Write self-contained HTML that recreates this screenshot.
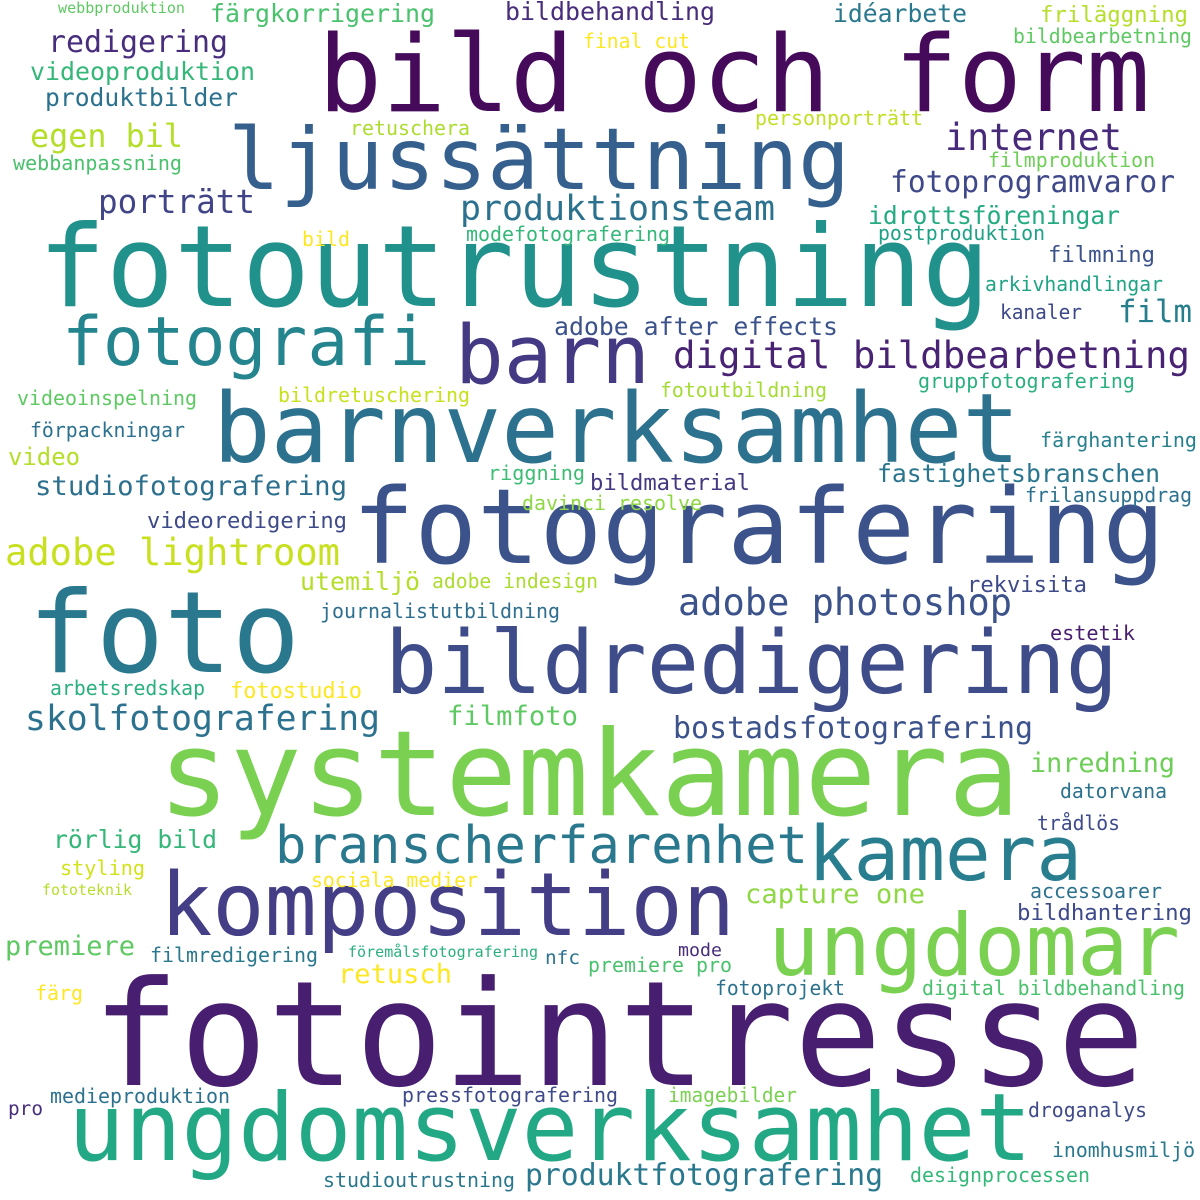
<!DOCTYPE html>
<html><head><meta charset="utf-8"><style>
html,body{margin:0;padding:0;background:#fff;}
svg{display:block;}
text{font-family:"DejaVu Sans Mono","Liberation Mono",monospace;}
</style></head><body>
<svg width="1200" height="1200" viewBox="0 0 1200 1200" xmlns="http://www.w3.org/2000/svg" lengthAdjust="spacingAndGlyphs">
<rect width="1200" height="1200" fill="#fff"/>
<g lengthAdjust="spacingAndGlyphs">
<text x="318" y="111" font-size="106" fill="#450a5a" textLength="832" lengthAdjust="spacingAndGlyphs">bild och form</text>
<text x="38" y="306" font-size="113" fill="#21918c" textLength="952" lengthAdjust="spacingAndGlyphs">fotoutrustning</text>
<text x="228" y="189" font-size="86" fill="#355f8d" textLength="622" lengthAdjust="spacingAndGlyphs">ljussättning</text>
<text x="213" y="462" font-size="96" fill="#2c718e" textLength="807" lengthAdjust="spacingAndGlyphs">barnverksamhet</text>
<text x="352" y="563" font-size="104" fill="#3b528b" textLength="813" lengthAdjust="spacingAndGlyphs">fotografering</text>
<text x="28" y="672" font-size="113" fill="#2a788e" textLength="272" lengthAdjust="spacingAndGlyphs">foto</text>
<text x="385" y="693" font-size="87" fill="#3e4c8a" textLength="733" lengthAdjust="spacingAndGlyphs">bildredigering</text>
<text x="158" y="815" font-size="119" fill="#7ad151" textLength="862" lengthAdjust="spacingAndGlyphs">systemkamera</text>
<text x="160" y="935" font-size="87" fill="#433e85" textLength="575" lengthAdjust="spacingAndGlyphs">komposition</text>
<text x="808" y="880" font-size="76" fill="#287d8e" textLength="274" lengthAdjust="spacingAndGlyphs">kamera</text>
<text x="768" y="975" font-size="86" fill="#7ad151" textLength="412" lengthAdjust="spacingAndGlyphs">ungdomar</text>
<text x="92" y="1085" font-size="146" fill="#481f70" textLength="1053" lengthAdjust="spacingAndGlyphs">fotointresse</text>
<text x="68" y="1160" font-size="94" fill="#22a884" textLength="964" lengthAdjust="spacingAndGlyphs">ungdomsverksamhet</text>
<text x="275" y="863" font-size="52" fill="#2a788e" textLength="533" lengthAdjust="spacingAndGlyphs">branscherfarenhet</text>
<text x="455" y="383" font-size="81" fill="#443983" textLength="195" lengthAdjust="spacingAndGlyphs">barn</text>
<text x="62" y="365" font-size="68" fill="#25858e" textLength="368" lengthAdjust="spacingAndGlyphs">fotografi</text>

<text x="58" y="13" font-size="15" fill="#5ec962" textLength="127" lengthAdjust="spacingAndGlyphs">webbproduktion</text>
<text x="210" y="22" font-size="25" fill="#4ac16d" textLength="225" lengthAdjust="spacingAndGlyphs">färgkorrigering</text>
<text x="505" y="20" font-size="25" fill="#472d7b" textLength="210" lengthAdjust="spacingAndGlyphs">bildbehandling</text>
<text x="833" y="22" font-size="25" fill="#2a788e" textLength="134" lengthAdjust="spacingAndGlyphs">idéarbete</text>
<text x="1040" y="22" font-size="22" fill="#b5de2b" textLength="148" lengthAdjust="spacingAndGlyphs">friläggning</text>
<text x="1013" y="43" font-size="20" fill="#5ec962" textLength="179" lengthAdjust="spacingAndGlyphs">bildbearbetning</text>
<text x="583" y="48" font-size="20" fill="#fde725" textLength="107" lengthAdjust="spacingAndGlyphs">final cut</text>
<text x="48" y="52" font-size="30" fill="#472d7b" textLength="180" lengthAdjust="spacingAndGlyphs">redigering</text>
<text x="30" y="80" font-size="25" fill="#35b779" textLength="225" lengthAdjust="spacingAndGlyphs">videoproduktion</text>
<text x="45" y="106" font-size="25" fill="#2c728e" textLength="193" lengthAdjust="spacingAndGlyphs">produktbilder</text>
<text x="755" y="125" font-size="20" fill="#c2df23" textLength="168" lengthAdjust="spacingAndGlyphs">personporträtt</text>
<text x="350" y="135" font-size="20" fill="#addc30" textLength="120" lengthAdjust="spacingAndGlyphs">retuschera</text>
<text x="945" y="150" font-size="37" fill="#472a7a" textLength="177" lengthAdjust="spacingAndGlyphs">internet</text>
<text x="30" y="147" font-size="32" fill="#b5de2b" textLength="153" lengthAdjust="spacingAndGlyphs">egen bil</text>
<text x="13" y="170" font-size="20" fill="#4ac16d" textLength="169" lengthAdjust="spacingAndGlyphs">webbanpassning</text>
<text x="988" y="167" font-size="20" fill="#6ece58" textLength="167" lengthAdjust="spacingAndGlyphs">filmproduktion</text>
<text x="890" y="192" font-size="30" fill="#3f4889" textLength="285" lengthAdjust="spacingAndGlyphs">fotoprogramvaror</text>
<text x="98" y="213" font-size="33" fill="#414487" textLength="157" lengthAdjust="spacingAndGlyphs">porträtt</text>
<text x="460" y="220" font-size="35" fill="#2c728e" textLength="315" lengthAdjust="spacingAndGlyphs">produktionsteam</text>
<text x="868" y="224" font-size="25" fill="#25ab82" textLength="252" lengthAdjust="spacingAndGlyphs">idrottsföreningar</text>
<text x="302" y="246" font-size="20" fill="#fde725" textLength="48" lengthAdjust="spacingAndGlyphs">bild</text>
<text x="466" y="241" font-size="20" fill="#35b779" textLength="204" lengthAdjust="spacingAndGlyphs">modefotografering</text>
<text x="878" y="240" font-size="20" fill="#1fa187" textLength="167" lengthAdjust="spacingAndGlyphs">postproduktion</text>
<text x="1048" y="262" font-size="22" fill="#3b528b" textLength="107" lengthAdjust="spacingAndGlyphs">filmning</text>
<text x="985" y="291" font-size="20" fill="#20a486" textLength="178" lengthAdjust="spacingAndGlyphs">arkivhandlingar</text>
<text x="1000" y="319" font-size="20" fill="#3e4989" textLength="82" lengthAdjust="spacingAndGlyphs">kanaler</text>
<text x="1118" y="322" font-size="31" fill="#277f8e" textLength="74" lengthAdjust="spacingAndGlyphs">film</text>
<text x="554" y="335" font-size="25" fill="#3b528b" textLength="284" lengthAdjust="spacingAndGlyphs">adobe after effects</text>
<text x="673" y="368" font-size="37" fill="#482374" textLength="517" lengthAdjust="spacingAndGlyphs">digital bildbearbetning</text>
<text x="17" y="405" font-size="20" fill="#5ec962" textLength="180" lengthAdjust="spacingAndGlyphs">videoinspelning</text>
<text x="278" y="402" font-size="20" fill="#c8e020" textLength="192" lengthAdjust="spacingAndGlyphs">bildretuschering</text>
<text x="660" y="397" font-size="20" fill="#a5db36" textLength="167" lengthAdjust="spacingAndGlyphs">fotoutbildning</text>
<text x="918" y="388" font-size="20" fill="#2ab07f" textLength="217" lengthAdjust="spacingAndGlyphs">gruppfotografering</text>
<text x="30" y="437" font-size="20" fill="#2c728e" textLength="155" lengthAdjust="spacingAndGlyphs">förpackningar</text>
<text x="1040" y="447" font-size="20" fill="#27808e" textLength="157" lengthAdjust="spacingAndGlyphs">färghantering</text>
<text x="8" y="465" font-size="24" fill="#b5de2b" textLength="72" lengthAdjust="spacingAndGlyphs">video</text>
<text x="488" y="480" font-size="20" fill="#3dbc74" textLength="97" lengthAdjust="spacingAndGlyphs">riggning</text>
<text x="877" y="482" font-size="25" fill="#2a768e" textLength="283" lengthAdjust="spacingAndGlyphs">fastighetsbranschen</text>
<text x="35" y="495" font-size="27" fill="#2d708e" textLength="312" lengthAdjust="spacingAndGlyphs">studiofotografering</text>
<text x="590" y="490" font-size="22" fill="#453781" textLength="160" lengthAdjust="spacingAndGlyphs">bildmaterial</text>
<text x="1025" y="502" font-size="20" fill="#2c728e" textLength="167" lengthAdjust="spacingAndGlyphs">frilansuppdrag</text>
<text x="522" y="510" font-size="20" fill="#8fd744" textLength="180" lengthAdjust="spacingAndGlyphs">davinci resolve</text>
<text x="147" y="528" font-size="22" fill="#3e4a89" textLength="200" lengthAdjust="spacingAndGlyphs">videoredigering</text>
<text x="5" y="565" font-size="37" fill="#c8e020" textLength="335" lengthAdjust="spacingAndGlyphs">adobe lightroom</text>
<text x="300" y="590" font-size="25" fill="#b5de2b" textLength="120" lengthAdjust="spacingAndGlyphs">utemiljö</text>
<text x="432" y="588" font-size="20" fill="#addc30" textLength="166" lengthAdjust="spacingAndGlyphs">adobe indesign</text>
<text x="967" y="592" font-size="22" fill="#3e4a89" textLength="120" lengthAdjust="spacingAndGlyphs">rekvisita</text>
<text x="678" y="615" font-size="37" fill="#3b528b" textLength="334" lengthAdjust="spacingAndGlyphs">adobe photoshop</text>
<text x="320" y="618" font-size="20" fill="#2e6e8e" textLength="240" lengthAdjust="spacingAndGlyphs">journalistutbildning</text>
<text x="1050" y="640" font-size="20" fill="#481d6f" textLength="85" lengthAdjust="spacingAndGlyphs">estetik</text>
<text x="50" y="695" font-size="20" fill="#2ab07f" textLength="155" lengthAdjust="spacingAndGlyphs">arbetsredskap</text>
<text x="230" y="698" font-size="22" fill="#fde725" textLength="132" lengthAdjust="spacingAndGlyphs">fotostudio</text>
<text x="447" y="725" font-size="27" fill="#5ec962" textLength="131" lengthAdjust="spacingAndGlyphs">filmfoto</text>
<text x="25" y="730" font-size="35" fill="#2c728e" textLength="355" lengthAdjust="spacingAndGlyphs">skolfotografering</text>
<text x="673" y="738" font-size="30" fill="#3b528b" textLength="360" lengthAdjust="spacingAndGlyphs">bostadsfotografering</text>
<text x="1030" y="772" font-size="27" fill="#6ece58" textLength="145" lengthAdjust="spacingAndGlyphs">inredning</text>
<text x="1060" y="798" font-size="20" fill="#2c728e" textLength="107" lengthAdjust="spacingAndGlyphs">datorvana</text>
<text x="1037" y="830" font-size="20" fill="#3e4a89" textLength="83" lengthAdjust="spacingAndGlyphs">trådlös</text>
<text x="53" y="848" font-size="25" fill="#35b779" textLength="164" lengthAdjust="spacingAndGlyphs">rörlig bild</text>
<text x="60" y="875" font-size="20" fill="#d2e21b" textLength="85" lengthAdjust="spacingAndGlyphs">styling</text>
<text x="42" y="895" font-size="15" fill="#b5de2b" textLength="90" lengthAdjust="spacingAndGlyphs">fototeknik</text>
<text x="311" y="887" font-size="20" fill="#fde725" textLength="167" lengthAdjust="spacingAndGlyphs">sociala medier</text>
<text x="745" y="903" font-size="27" fill="#8fd744" textLength="180" lengthAdjust="spacingAndGlyphs">capture one</text>
<text x="1030" y="898" font-size="20" fill="#2c728e" textLength="132" lengthAdjust="spacingAndGlyphs">accessoarer</text>
<text x="1017" y="920" font-size="22" fill="#3e4a89" textLength="175" lengthAdjust="spacingAndGlyphs">bildhantering</text>
<text x="5" y="955" font-size="27" fill="#5ec962" textLength="130" lengthAdjust="spacingAndGlyphs">premiere</text>
<text x="150" y="962" font-size="20" fill="#2a788e" textLength="168" lengthAdjust="spacingAndGlyphs">filmredigering</text>
<text x="348" y="957" font-size="15" fill="#2ab07f" textLength="190" lengthAdjust="spacingAndGlyphs">föremålsfotografering</text>
<text x="678" y="956" font-size="18" fill="#472d7b" textLength="44" lengthAdjust="spacingAndGlyphs">mode</text>
<text x="545" y="964" font-size="19" fill="#2c728e" textLength="35" lengthAdjust="spacingAndGlyphs">nfc</text>
<text x="588" y="972" font-size="20" fill="#4ac16d" textLength="144" lengthAdjust="spacingAndGlyphs">premiere pro</text>
<text x="338" y="983" font-size="27" fill="#fde725" textLength="114" lengthAdjust="spacingAndGlyphs">retusch</text>
<text x="35" y="1000" font-size="20" fill="#fde725" textLength="48" lengthAdjust="spacingAndGlyphs">färg</text>
<text x="715" y="995" font-size="20" fill="#2c728e" textLength="130" lengthAdjust="spacingAndGlyphs">fotoprojekt</text>
<text x="922" y="995" font-size="20" fill="#4ac16d" textLength="263" lengthAdjust="spacingAndGlyphs">digital bildbehandling</text>
<text x="8" y="1115" font-size="19" fill="#472d7b" textLength="35" lengthAdjust="spacingAndGlyphs">pro</text>
<text x="50" y="1103" font-size="20" fill="#2c728e" textLength="180" lengthAdjust="spacingAndGlyphs">medieproduktion</text>
<text x="402" y="1102" font-size="20" fill="#3e4a89" textLength="216" lengthAdjust="spacingAndGlyphs">pressfotografering</text>
<text x="668" y="1102" font-size="20" fill="#7ad151" textLength="129" lengthAdjust="spacingAndGlyphs">imagebilder</text>
<text x="1028" y="1117" font-size="20" fill="#3e4a89" textLength="119" lengthAdjust="spacingAndGlyphs">droganalys</text>
<text x="1052" y="1157" font-size="20" fill="#2a788e" textLength="143" lengthAdjust="spacingAndGlyphs">inomhusmiljö</text>
<text x="323" y="1187" font-size="20" fill="#2a788e" textLength="192" lengthAdjust="spacingAndGlyphs">studioutrustning</text>
<text x="525" y="1185" font-size="30" fill="#2a788e" textLength="358" lengthAdjust="spacingAndGlyphs">produktfotografering</text>
<text x="910" y="1182" font-size="20" fill="#35b779" textLength="180" lengthAdjust="spacingAndGlyphs">designprocessen</text>
</g>
</svg>
</body></html>
